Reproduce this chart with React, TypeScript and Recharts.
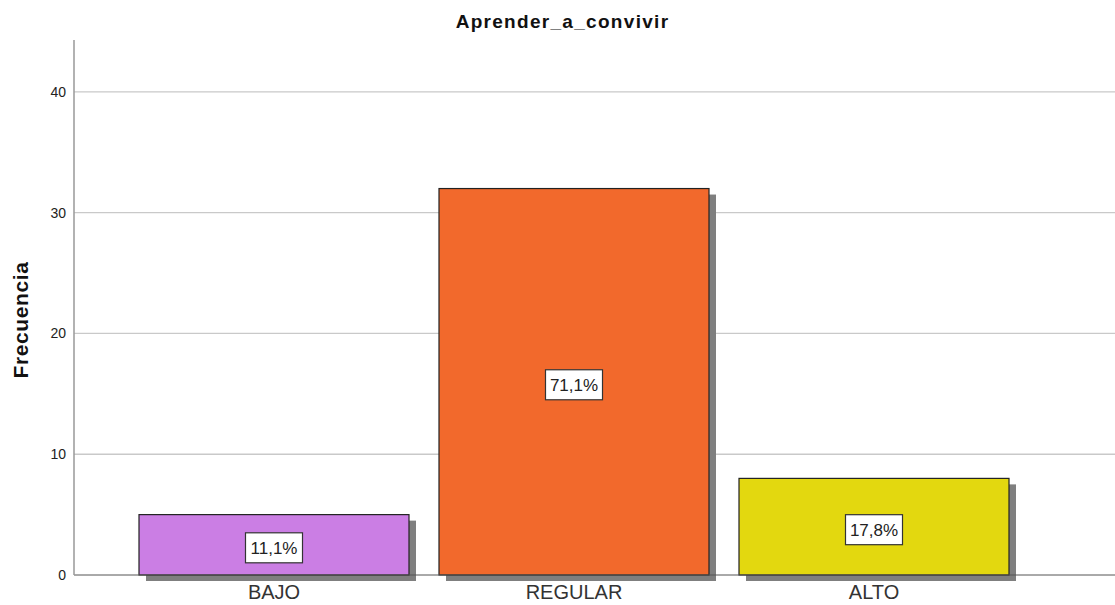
import { BarChart, Bar, XAxis, YAxis, CartesianGrid, Cell, LabelList } from "recharts"

const categorias = ["BAJO", "REGULAR", "ALTO"]
const frecuencias = [5, 32, 8]
const porcentajes = ["11,1%", "71,1%", "17,8%"]
const colores = ["#cb7ee4", "#f2692c", "#e3d80f"]
const yTicks = [0, 10, 20, 30, 40]
const gridValues = [10, 20, 30, 40]

const data = categorias.map((c, i) => ({
    name: c,
    value: frecuencias[i],
    pct: porcentajes[i],
}))

const FONT = "'Liberation Sans', Arial, sans-serif"

function ShadowBar(props: any) {
    const { x, y, width, height, fill } = props
    if (height <= 0) return null
    return (
        <g>
            <rect x={x + 7} y={y + 6} width={width} height={height} fill="#7f7f7f" />
            <rect x={x} y={y} width={width} height={height} fill={fill} stroke="#222" strokeWidth={1.2} />
        </g>
    )
}

function PctLabel(props: any) {
    const { x, y, width, height, value } = props
    const cx = x + width / 2
    const cy = y + height / 2 + 3
    const w = 57
    const h = 30
    return (
        <g>
            <rect x={cx - w / 2} y={cy - h / 2} width={w} height={h} fill="#fff" stroke="#333" strokeWidth={1.2} />
            <text x={cx} y={cy + 6} textAnchor="middle" fontSize={17} fill="#222" fontFamily={FONT}>
                {value}
            </text>
        </g>
    )
}

function YLabel() {
    return (
        <text
            x={28}
            y={320}
            transform="rotate(-90 28 320)"
            textAnchor="middle"
            fontSize={21}
            fontWeight="bold"
            letterSpacing={0.6}
            fill="#111"
            fontFamily={FONT}
        >
            Frecuencia
        </text>
    )
}

export default function App() {
    return (
        <div style={{ position: "absolute", left: 0, top: 0, width: 1115, height: 605, background: "#fff" }}>
            <div
                style={{
                    position: "absolute",
                    left: 0,
                    top: 11,
                    width: 1125,
                    textAlign: "center",
                    fontFamily: FONT,
                    fontWeight: "bold",
                    fontSize: 19,
                    letterSpacing: 1.3,
                    lineHeight: "22px",
                    color: "#111",
                }}
            >
                Aprender_a_convivir
            </div>
            <BarChart
                width={1115}
                height={605}
                data={data}
                margin={{ top: 40, right: 0, bottom: 0, left: 0 }}
                barSize={270}
            >
                <CartesianGrid
                    horizontal
                    vertical={false}
                    horizontalValues={gridValues}
                    stroke="#c9c9c9"
                    strokeWidth={1.3}
                />
                <XAxis
                    dataKey="name"
                    height={30}
                    padding={{ left: 50, right: 91 }}
                    tickLine={false}
                    tickSize={0}
                    tickMargin={10}
                    axisLine={{ stroke: "#555" }}
                    tick={{ fontSize: 20, fill: "#333", fontFamily: FONT }}
                />
                <YAxis
                    width={74}
                    domain={[0, 44.3]}
                    ticks={yTicks}
                    tickLine={false}
                    tickSize={0}
                    tickMargin={8}
                    axisLine={{ stroke: "#999", strokeWidth: 1.5 }}
                    tick={{ fontSize: 14, fill: "#222", fontFamily: FONT }}
                    label={<YLabel />}
                />
                <Bar dataKey="value" shape={<ShadowBar />} isAnimationActive={false}>
                    {data.map((_, idx) => (
                        <Cell key={idx} fill={colores[idx]} />
                    ))}
                    <LabelList dataKey="pct" content={<PctLabel />} />
                </Bar>
            </BarChart>
        </div>
    )
}
